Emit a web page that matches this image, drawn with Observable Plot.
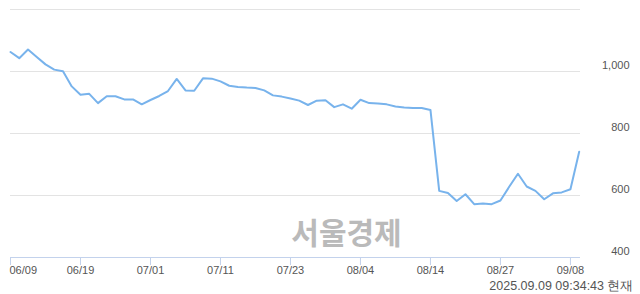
<!DOCTYPE html>
<html>
<head>
<meta charset="utf-8">
<script src="https://cdn.jsdelivr.net/npm/d3@7"></script>
<script src="https://cdn.jsdelivr.net/npm/@observablehq/plot@0.6"></script>
<style>
  html, body { margin: 0; padding: 0; background: #fff; }
  svg { display: block; }
</style>
</head>
<body>
<div id="chart"></div>
<script>
const dates = [
  "06/09","06/10","06/11","06/12","06/13","06/16","06/17","06/18","06/19","06/20",
  "06/23","06/24","06/25","06/26","06/27","06/30",
  "07/01","07/02","07/03","07/04","07/07","07/08","07/09","07/10","07/11","07/14",
  "07/15","07/16","07/17","07/18","07/21","07/22","07/23","07/24","07/25","07/28",
  "07/29","07/30","07/31",
  "08/01","08/04","08/05","08/06","08/07","08/08","08/11","08/12","08/13","08/14",
  "08/18","08/19","08/20","08/21","08/22","08/25","08/26","08/27","08/28","08/29",
  "09/01","09/02","09/03","09/04","09/05","09/08","09/09"
];
const prices = [
  1063,1043,1071,1047,1023,1006,1001,952,925,928,
  898,920,920,910,910,894,
  908,921,937,976,939,938,978,977,968,954,
  950,948,947,939,923,919,913,906,892,906,
  907,885,894,
  880,909,898,897,894,887,884,882,882,876,
  615,608,582,604,572,574,572,584,628,670,
  629,615,588,607,610,620,741
];
const tickDates = ["06/09","06/19","07/01","07/11","07/23","08/04","08/14","08/27","09/08"];
const gridValues = [600, 800, 1000, 1200];
const yLabelValues = [400, 600, 800, 1000];
const watermark = "서울경제";
const stamp = "2025.09.09 09:34:43 현재";

const data = dates.map((d, i) => ({date: d, i, price: prices[i]}));
const tickIdx = tickDates.map(d => dates.indexOf(d));
const firstTick = tickDates.slice(0, 1);
const otherTicks = tickDates.slice(1);
const font = "'Liberation Sans', Arial, sans-serif";

const chart = Plot.plot({
  width: 640,
  height: 294,
  marginLeft: 10,
  marginRight: 60,
  marginTop: 9,
  marginBottom: 37,
  style: {fontFamily: font, background: "#fff"},
  x: {type: "linear", domain: [0, 65.15], axis: null, label: null},
  y: {type: "linear", domain: [400, 1200], axis: null, label: null},
  marks: [
    Plot.ruleY(gridValues, {y: d => d, stroke: "#e3e3e3", strokeWidth: 1}),
    Plot.ruleY([400], {y: d => d, stroke: "#c3d2ec", strokeWidth: 1}),
    Plot.axisX(tickIdx, {anchor: "bottom", label: null, tickSize: 8, tickFormat: () => "", stroke: "#c3d2ec", strokeOpacity: 1}),
    Plot.text(firstTick, {x: d => dates.indexOf(d), frameAnchor: "bottom", text: d => d, textAnchor: "start", dx: -1, dy: 16, fontSize: 11, fill: "#555"}),
    Plot.text(otherTicks, {x: d => dates.indexOf(d), frameAnchor: "bottom", text: d => d, textAnchor: "middle", dy: 16, fontSize: 11, fill: "#555"}),
    Plot.text(yLabelValues, {y: d => d, frameAnchor: "right", text: d => d3.format(",")(d), textAnchor: "end", dx: 49, dy: -6, fontSize: 11, fill: "#555"}),
    Plot.text([watermark], {frameAnchor: "bottom", text: d => d, dx: 51, dy: -14, fontSize: 30, fontWeight: "bold", fill: "#bababa", fontFamily: "'Noto Sans CJK KR', sans-serif"}),
    Plot.line(data, {x: "i", y: "price", stroke: "#78b3ec", strokeWidth: 2, strokeLinejoin: "round"}),
    Plot.text([stamp], {frameAnchor: "bottom-right", text: d => d, textAnchor: "end", dx: 53, dy: 32, fontSize: 12.5, fill: "#555"})
  ]
});
document.getElementById("chart").appendChild(chart);
</script>
</body>
</html>
